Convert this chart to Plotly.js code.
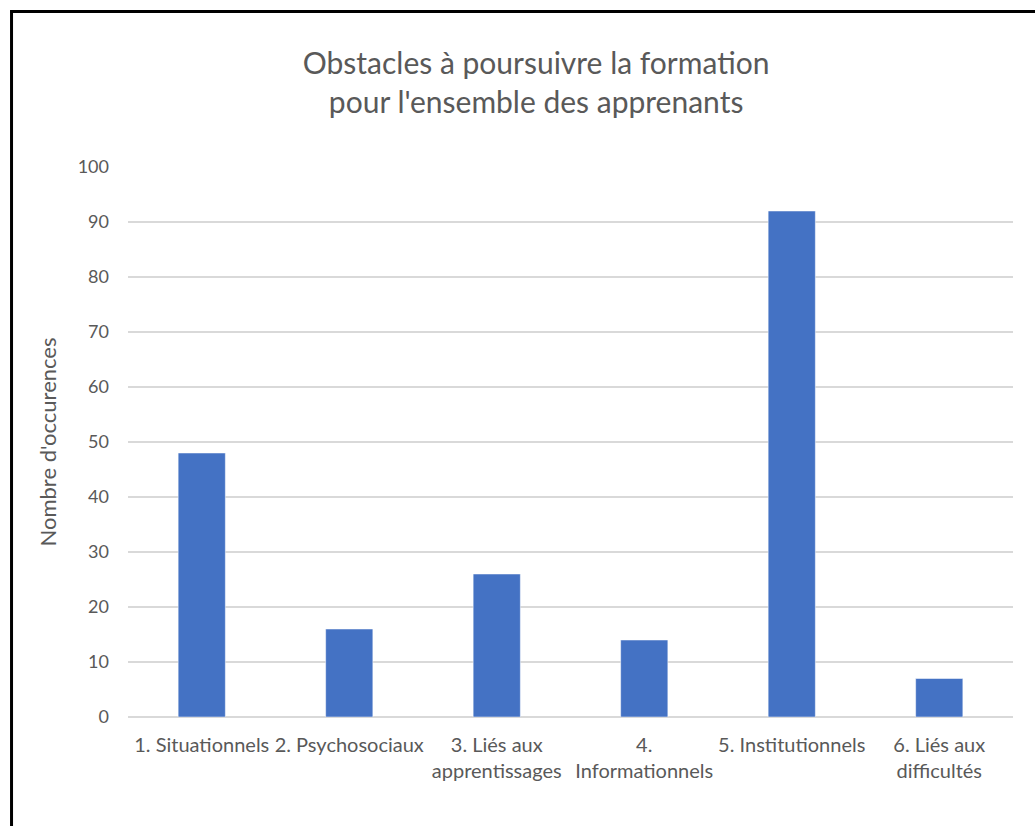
<!DOCTYPE html>
<html>
<head>
<meta charset="utf-8">
<script src="https://cdn.plot.ly/plotly-3.0.1.min.js"></script>
<style>
  html, body { margin: 0; padding: 0; background: #fff; }
  #chart { width: 1035px; height: 826px; }
</style>
</head>
<body>
<div id="chart"></div>
<script>
const categories = [
  "1. Situationnels",
  "2. Psychosociaux",
  "3. Liés aux<br>apprentissages",
  "4.<br>Informationnels",
  "5. Institutionnels",
  "6. Liés aux<br>difficultés"
];
const occurrences = [48, 16, 26, 14, 92, 7];
const yTicks = [0, 10, 20, 30, 40, 50, 60, 70, 80, 90, 100];
const chartTitle = "Obstacles à poursuivre la formation<br>pour l'ensemble des apprenants";
const yTitle = "Nombre d'occurences";

const textColor = "#595959";
const fontFamily = "Lato, 'Open Sans', sans-serif";

const trace = {
  type: "bar",
  x: categories,
  y: occurrences,
  marker: { color: "#4472c4", line: { color: "#ffffff", width: 0.5 } },
  hoverinfo: "x+y"
};

const layout = {
  width: 1035,
  height: 826,
  paper_bgcolor: "#ffffff",
  plot_bgcolor: "#ffffff",
  margin: { l: 128, r: 22, t: 167, b: 109 },
  bargap: 0.68,
  showlegend: false,
  font: { family: fontFamily, color: textColor },
  title: {
    text: chartTitle,
    font: { family: fontFamily, size: 30, color: textColor },
    x: 0.518,
    xanchor: "center",
    y: 0.91,
    yanchor: "middle"
  },
  xaxis: {
    type: "category",
    tickfont: { family: fontFamily, size: 20, color: textColor },
    showgrid: false,
    showline: false,
    ticks: "",
    ticklabelstandoff: 14,
    tickangle: 0,
    automargin: false
  },
  yaxis: {
    range: [0, 100],
    tickvals: yTicks,
    ticktext: yTicks.map(String),
    tickfont: { family: fontFamily, size: 18, color: textColor },
    showgrid: true,
    gridcolor: "#d9d9d9",
    gridwidth: 1.5,
    zeroline: true,
    zerolinecolor: "#d9d9d9",
    zerolinewidth: 1.5,
    showline: false,
    ticks: "",
    ticklen: 0,
    ticklabelstandoff: 18,
    automargin: false,
    title: {
      text: yTitle,
      font: { family: fontFamily, size: 22, color: textColor },
      standoff: 14
    }
  },
  shapes: [
    { type: "line", xref: "paper", yref: "paper", x0: -0.1316, x1: -0.1316, y0: 1.283, y1: -0.2, line: { color: "#000", width: 3 } },
    { type: "line", xref: "paper", yref: "paper", x0: -0.1333, x1: 1.03, y0: 1.2827, y1: 1.2827, line: { color: "#000", width: 3 } }
  ]
};

Plotly.newPlot("chart", [trace], layout, { displayModeBar: false, staticPlot: true });
</script>
</body>
</html>
